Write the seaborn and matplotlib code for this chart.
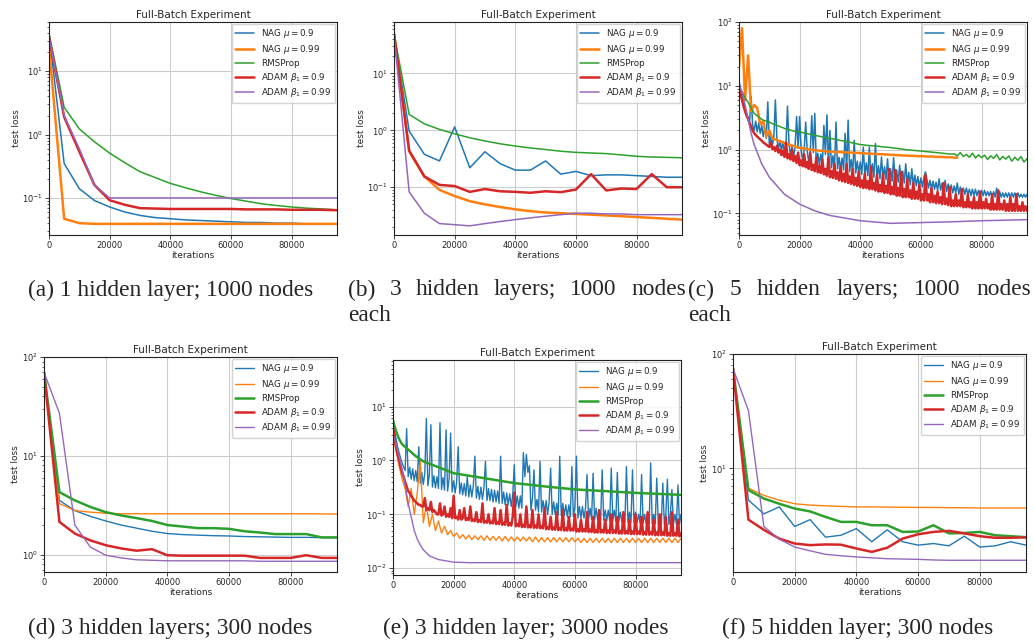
import numpy as np
import pandas as pd
import matplotlib
matplotlib.use("Agg")
import matplotlib.pyplot as plt
import seaborn as sns

sns.set_theme(style="ticks")
plt.rcParams['font.family'] = ['DejaVu Sans']
plt.rcParams['mathtext.fontset'] = 'dejavusans'

# ---------------- data ----------------
labels = ["NAG $\\mu = 0.9$", "NAG $\\mu = 0.99$", "RMSProp",
          "ADAM $\\beta_1 = 0.9$", "ADAM $\\beta_1 = 0.99$"]
colors = ["#1f77b4", "#ff7f0e", "#2ca02c", "#d62728", "#9467bd"]
titles = ["Full-Batch Experiment"] * 6
captions = ["(a) 1 hidden layer; 1000 nodes",
            "(b) 3 hidden layers; 1000 nodes each",
            "(c) 5 hidden layers; 1000 nodes each",
            "(d) 3 hidden layers; 300 nodes",
            "(e) 3 hidden layer; 3000 nodes",
            "(f) 5 hidden layer; 300 nodes"]
xticks = [0, 20000, 40000, 60000, 80000]

it5 = list(range(0, 100000, 5000))     # 0..95000 every 5000
it1 = list(range(0, 96000, 1000))      # 0..95000 every 1000
ith = list(range(0, 95500, 500))       # 0..95000 every 500

# (a) 1 hidden layer, 1000 nodes
a_blue = [40, 0.35, 0.14, 0.091, 0.072, 0.06, 0.053, 0.049, 0.047, 0.045,
          0.044, 0.043, 0.042, 0.041, 0.041, 0.04, 0.04, 0.039, 0.039, 0.039]
a_orange = [25, 0.047, 0.04, 0.039, 0.039, 0.039, 0.039, 0.039, 0.039, 0.039,
            0.039, 0.039, 0.039, 0.039, 0.039, 0.039, 0.039, 0.039, 0.039, 0.039]
a_green = [40, 2.7, 1.23, 0.77, 0.51, 0.36, 0.26, 0.21, 0.17, 0.145,
           0.125, 0.11, 0.098, 0.089, 0.081, 0.076, 0.072, 0.069, 0.067, 0.065]
a_red = [35, 1.9, 0.54, 0.16, 0.092, 0.078, 0.069, 0.068, 0.067, 0.067,
         0.067, 0.067, 0.067, 0.066, 0.066, 0.066, 0.065, 0.065, 0.065, 0.064]
a_purple = [35, 2.0, 0.6, 0.16, 0.1, 0.1, 0.1, 0.1, 0.1, 0.1,
            0.1, 0.1, 0.1, 0.1, 0.1, 0.1, 0.1, 0.1, 0.1, 0.1]

# (b) 3 hidden layers, 1000 nodes
b_blue = [50, 0.97, 0.38, 0.29, 1.15, 0.22, 0.42, 0.26, 0.2, 0.2,
          0.29, 0.17, 0.19, 0.16, 0.165, 0.165, 0.16, 0.155, 0.15, 0.15]
b_orange = [50, 0.43, 0.155, 0.09, 0.07, 0.057, 0.05, 0.045, 0.041, 0.038,
            0.036, 0.035, 0.034, 0.033, 0.032, 0.031, 0.03, 0.029, 0.028, 0.027]
b_green = [50, 1.9, 1.3, 1.04, 0.87, 0.74, 0.65, 0.58, 0.53, 0.49,
           0.46, 0.43, 0.41, 0.4, 0.39, 0.37, 0.35, 0.34, 0.335, 0.33]
b_red = [50, 0.44, 0.155, 0.11, 0.105, 0.083, 0.093, 0.085, 0.083, 0.08,
         0.085, 0.082, 0.091, 0.17, 0.088, 0.095, 0.093, 0.17, 0.1, 0.1]
b_purple = [50, 0.083, 0.035, 0.023, 0.022, 0.021, 0.023, 0.025, 0.027, 0.029,
            0.031, 0.033, 0.035, 0.035, 0.034, 0.034, 0.033, 0.033, 0.033, 0.033]

# (c) 5 hidden layers, 1000 nodes (noisy)
c_blue = [12, 9, 7, 5.5, 4.5, 3.8, 3.2, 2.8, 6.8, 2.4,
          2.0, 2.8, 1.9, 2.6, 1.8, 2.4, 1.6, 2.2, 1.5, 5.6,
          1.2, 1.7, 1.15, 1.6, 6.0, 1.5, 1.0, 1.4, 0.95, 1.35,
          0.85, 1.25, 4.8, 1.2, 0.8, 1.15, 0.78, 1.1, 3.3, 1.05,
          3.3, 1.0, 0.68, 0.98, 2.7, 0.95, 0.64, 0.92, 3.4, 0.9,
          3.7, 0.6, 0.88, 0.58, 0.86, 0.56, 2.4, 0.84, 3.5, 0.55,
          2.0, 0.52, 0.8, 0.5, 2.7, 0.5, 0.76, 0.49, 0.74, 0.48,
          1.8, 0.46, 2.9, 0.45, 0.7, 0.44, 1.4, 0.43, 0.66, 0.42,
          0.64, 0.41, 1.1, 0.4, 0.62, 0.39, 1.1, 0.38, 0.6, 0.37,
          1.25, 0.36, 0.56, 0.35, 0.77, 0.35, 0.54, 0.34, 0.72, 0.33,
          0.5, 0.32, 0.75, 0.32, 0.48, 0.31, 0.57, 0.3, 0.46, 0.3,
          0.6, 0.29, 0.44, 0.28, 0.5, 0.27, 0.4, 0.27, 0.38, 0.26,
          0.36, 0.26, 0.37, 0.45, 0.34, 0.25, 0.33, 0.24, 0.32, 0.24,
          0.31, 0.23, 0.35, 0.23, 0.3, 0.22, 0.33, 0.22, 0.29, 0.21,
          0.28, 0.21, 0.27, 0.21, 0.3, 0.2, 0.26, 0.2, 0.25, 0.2,
          0.25, 0.2, 0.24, 0.19, 0.24, 0.19, 0.24, 0.19, 0.23, 0.19,
          0.23, 0.19, 0.23, 0.19, 0.22, 0.19, 0.22, 0.18, 0.22, 0.18,
          0.25, 0.18, 0.22, 0.18, 0.21, 0.18, 0.21, 0.18, 0.21, 0.18,
          0.21, 0.18, 0.21, 0.18, 0.21, 0.18, 0.2, 0.18, 0.2, 0.18, 0.2]
c_orange_it = list(range(0, 73000, 1000))
c_orange = [20, 80, 6, 30, 4, 5, 4.5, 2.5, 2.8, 1.6,
            2.0, 1.5, 1.45, 1.38, 1.32, 1.27, 1.22, 1.18, 1.14, 1.1,
            1.07, 1.05, 1.03, 1.01, 0.99, 0.98, 0.97, 0.96, 0.95, 0.94,
            0.93, 0.93, 0.92, 0.92, 0.91, 0.91, 0.9, 0.9, 0.89, 0.89,
            0.88, 0.88, 0.87, 0.87, 0.86, 0.86, 0.85, 0.85, 0.84, 0.84,
            0.83, 0.83, 0.82, 0.82, 0.81, 0.81, 0.8, 0.8, 0.8, 0.79,
            0.79, 0.79, 0.78, 0.78, 0.78, 0.77, 0.77, 0.77, 0.76, 0.76,
            0.76, 0.75, 0.75]
c_green = [10, 8, 6.5, 5.5, 4.5, 3.7, 3.4, 3.1, 2.9, 2.8,
           2.7, 2.55, 2.45, 2.35, 2.25, 2.15, 2.08, 2.02, 1.96, 1.92,
           1.9, 1.85, 1.8, 1.76, 1.72, 1.68, 1.64, 1.6, 1.56, 1.53,
           1.5, 1.47, 1.44, 1.41, 1.38, 1.35, 1.32, 1.29, 1.26, 1.23,
           1.2, 1.19, 1.17, 1.16, 1.15, 1.14, 1.13, 1.11, 1.1, 1.09,
           1.08, 1.06, 1.05, 1.03, 1.02, 1.0, 0.99, 0.98, 0.97, 0.96,
           0.95, 0.94, 0.93, 0.92, 0.91, 0.9, 0.89, 0.88, 0.87, 0.86,
           0.85, 0.86, 0.8, 0.9, 0.78, 0.84, 0.76, 0.88, 0.74, 0.83,
           0.75, 0.82, 0.7, 0.8, 0.73, 0.84, 0.69, 0.78, 0.71, 0.8,
           0.66, 0.76, 0.68, 0.78, 0.64, 0.72]
c_red = [10, 7.5, 6, 4.8, 4, 3.4, 3, 2.6, 2.3, 2.0,
         1.8, 1.7, 1.6, 1.52, 1.45, 1.38, 1.3, 1.25, 1.2, 1.15,
         1.1, 1.3, 1.02, 1.1, 0.95, 1.15, 0.9, 1.0, 0.82, 0.95,
         0.77, 1.3, 0.73, 0.85, 0.7, 1.0, 0.66, 0.8, 0.62, 0.9,
         0.57, 0.68, 0.55, 0.85, 0.53, 0.64, 0.5, 0.9, 0.48, 0.58,
         0.46, 0.75, 0.44, 0.55, 0.43, 0.7, 0.41, 0.5, 0.39, 0.75,
         0.37, 0.46, 0.36, 0.6, 0.35, 0.44, 0.33, 0.55, 0.32, 0.42,
         0.31, 0.6, 0.3, 0.38, 0.29, 0.5, 0.28, 0.36, 0.27, 0.45,
         0.26, 0.33, 0.25, 0.42, 0.25, 0.32, 0.24, 0.55, 0.24, 0.3,
         0.23, 0.4, 0.22, 0.28, 0.22, 0.42, 0.21, 0.27, 0.21, 0.5,
         0.2, 0.26, 0.2, 0.48, 0.19, 0.25, 0.19, 0.45, 0.18, 0.24,
         0.18, 0.35, 0.18, 0.23, 0.17, 0.3, 0.17, 0.22, 0.17, 0.28,
         0.16, 0.2, 0.16, 0.4, 0.16, 0.2, 0.15, 0.25, 0.15, 0.19,
         0.145, 0.22, 0.145, 0.18, 0.14, 0.3, 0.14, 0.17, 0.135, 0.26,
         0.13, 0.16, 0.13, 0.2, 0.13, 0.16, 0.13, 0.24, 0.125, 0.15,
         0.125, 0.2, 0.125, 0.15, 0.12, 0.18, 0.12, 0.15, 0.12, 0.22,
         0.12, 0.15, 0.12, 0.17, 0.12, 0.14, 0.115, 0.2, 0.115, 0.14,
         0.115, 0.23, 0.115, 0.14, 0.115, 0.16, 0.11, 0.14, 0.11, 0.18,
         0.11, 0.14, 0.11, 0.2, 0.11, 0.13, 0.11, 0.15, 0.11, 0.13, 0.11]
c_purple_it = [0, 1000, 2000, 3000, 4000, 5000, 7500, 10000, 15000, 20000,
               25000, 30000, 40000, 50000, 60000, 70000, 80000, 95000]
c_purple = [10, 8, 5, 3, 1.8, 1.2, 0.6, 0.37, 0.2, 0.14,
            0.11, 0.093, 0.077, 0.07, 0.072, 0.074, 0.077, 0.08]

# (d) 3 hidden layers, 300 nodes
d_blue = [70, 3.55, 2.8, 2.45, 2.2, 2.0, 1.86, 1.73, 1.64, 1.6,
          1.58, 1.56, 1.55, 1.53, 1.52, 1.51, 1.5, 1.5, 1.49, 1.49]
d_orange = [70, 3.3, 2.8, 2.7, 2.63, 2.6, 2.6, 2.6, 2.6, 2.6,
            2.6, 2.6, 2.6, 2.6, 2.6, 2.6, 2.6, 2.6, 2.59, 2.58]
d_green = [70, 4.3, 3.55, 3.05, 2.7, 2.5, 2.35, 2.2, 2.0, 1.93,
           1.86, 1.86, 1.83, 1.73, 1.68, 1.62, 1.62, 1.62, 1.5, 1.5]
d_red = [70, 2.15, 1.64, 1.4, 1.25, 1.16, 1.1, 1.14, 0.99, 0.98,
         0.98, 0.98, 0.98, 0.98, 0.93, 0.93, 0.93, 0.99, 0.93, 0.93]
d_purple = [70, 27, 2.0, 1.2, 0.99, 0.93, 0.89, 0.88, 0.87, 0.87,
            0.87, 0.87, 0.87, 0.87, 0.86, 0.86, 0.86, 0.86, 0.86, 0.86]

# (e) 3 hidden layers, 3000 nodes (noisy)
e_blue = [5.6, 3.5, 2.5, 1.8, 1.4, 1.1, 0.9, 0.75, 0.65, 3.9,
          0.5, 0.75, 0.45, 0.7, 0.42, 0.65, 0.4, 1.8, 0.38, 0.6,
          0.36, 0.58, 6.0, 0.34, 0.55, 4.6, 0.32, 0.52, 0.31, 0.5,
          0.3, 5.0, 0.29, 0.48, 0.28, 3.7, 0.27, 0.45, 3.2, 0.26,
          0.42, 0.25, 0.4, 1.8, 0.24, 0.38, 0.23, 0.37, 0.22, 0.5,
          0.21, 0.35, 0.21, 0.34, 1.2, 0.2, 0.33, 0.19, 0.32, 0.19,
          0.31, 0.96, 0.18, 0.3, 0.18, 0.29, 0.17, 0.28, 0.17, 0.27,
          0.16, 1.2, 0.16, 0.26, 0.15, 0.25, 0.15, 0.24, 0.14, 0.23,
          0.83, 0.14, 0.22, 0.13, 0.22, 0.13, 1.4, 0.5, 1.3, 0.6,
          0.8, 0.12, 0.2, 0.67, 0.12, 0.19, 0.11, 0.96, 0.11, 0.18,
          0.11, 0.18, 0.1, 0.17, 0.72, 0.1, 0.17, 0.1, 0.16, 0.095,
          1.2, 0.095, 0.16, 0.095, 0.15, 0.09, 0.15, 0.09, 0.77, 0.09,
          0.14, 1.2, 0.085, 0.14, 0.085, 0.14, 0.085, 0.13, 0.55, 0.08,
          0.13, 0.08, 0.58, 0.08, 0.13, 0.078, 0.12, 0.078, 0.67, 0.078,
          0.12, 0.075, 0.12, 0.075, 0.72, 0.075, 0.12, 0.073, 0.6, 0.073,
          0.11, 0.072, 0.11, 0.072, 0.77, 0.07, 0.11, 0.07, 0.67, 0.07,
          0.11, 0.07, 0.1, 0.068, 0.55, 0.068, 0.1, 0.068, 0.1, 0.067,
          0.9, 0.067, 0.1, 0.066, 0.47, 0.066, 0.1, 0.065, 0.38, 0.065,
          0.1, 0.45, 0.065, 0.1, 0.29, 0.065, 0.1, 0.065, 0.35, 0.065, 0.1]
e_orange = [3.2, 1.5, 0.8, 0.45, 0.3, 0.14, 0.3, 0.1, 0.25, 1.0,
            0.07, 0.15, 0.06, 0.1, 0.05, 0.075, 0.045, 0.06, 0.042, 0.05,
            0.039, 0.045, 0.036, 0.042, 0.035, 0.041, 0.034, 0.04, 0.034, 0.04,
            0.033, 0.04, 0.033, 0.039, 0.033, 0.039, 0.032, 0.039, 0.032, 0.038,
            0.032, 0.038, 0.032, 0.038, 0.032, 0.038, 0.031, 0.038, 0.031, 0.037,
            0.031, 0.037, 0.031, 0.037, 0.031, 0.037, 0.031, 0.037, 0.031, 0.037,
            0.031, 0.036, 0.03, 0.036, 0.03, 0.036, 0.03, 0.036, 0.03, 0.036,
            0.03, 0.036, 0.03, 0.036, 0.03, 0.036, 0.03, 0.036, 0.03, 0.036,
            0.03, 0.036, 0.03, 0.036, 0.03, 0.036, 0.03, 0.036, 0.03, 0.036,
            0.03, 0.036, 0.03, 0.036, 0.03, 0.036]
e_green_it = [0, 1000, 2000, 3000, 5000, 7500, 10000, 15000, 20000, 30000,
              40000, 50000, 60000, 70000, 80000, 95000]
e_green = [5.5, 3.5, 2.5, 2.0, 1.6, 1.2, 0.96, 0.75, 0.58, 0.47,
           0.38, 0.33, 0.29, 0.27, 0.25, 0.23]
e_red = [4, 2.6, 1.8, 1.3, 1.0, 0.75, 0.6, 0.5, 0.4, 0.33,
         0.27, 0.25, 0.22, 0.2, 0.18, 0.17, 0.16, 0.15, 0.15, 0.14,
         0.14, 0.2, 0.12, 0.13, 0.12, 0.17, 0.11, 0.12, 0.11, 0.1,
         0.1, 0.16, 0.095, 0.1, 0.14, 0.09, 0.1, 0.09, 0.13, 0.085,
         0.22, 0.085, 0.09, 0.08, 0.12, 0.08, 0.085, 0.13, 0.078, 0.085,
         0.078, 0.14, 0.075, 0.08, 0.075, 0.11, 0.072, 0.078, 0.072, 0.16,
         0.07, 0.075, 0.07, 0.1, 0.068, 0.073, 0.068, 0.13, 0.066, 0.071,
         0.066, 0.12, 0.064, 0.07, 0.064, 0.15, 0.062, 0.068, 0.062, 0.09,
         0.25, 0.06, 0.066, 0.06, 0.1, 0.058, 0.064, 0.058, 0.14, 0.057,
         0.063, 0.057, 0.12, 0.056, 0.062, 0.056, 0.1, 0.055, 0.06, 0.055,
         0.13, 0.053, 0.058, 0.053, 0.09, 0.052, 0.057, 0.052, 0.11, 0.051,
         0.056, 0.051, 0.12, 0.05, 0.055, 0.05, 0.09, 0.05, 0.054, 0.05,
         0.1, 0.048, 0.053, 0.048, 0.08, 0.048, 0.053, 0.048, 0.11, 0.047,
         0.052, 0.047, 0.09, 0.046, 0.051, 0.046, 0.12, 0.046, 0.051, 0.046,
         0.08, 0.045, 0.05, 0.045, 0.1, 0.045, 0.05, 0.045, 0.09, 0.044,
         0.049, 0.044, 0.11, 0.044, 0.049, 0.044, 0.08, 0.043, 0.048, 0.043,
         0.1, 0.043, 0.048, 0.043, 0.09, 0.042, 0.047, 0.042, 0.11, 0.042,
         0.047, 0.042, 0.08, 0.041, 0.046, 0.041, 0.1, 0.041, 0.046, 0.041,
         0.09, 0.04, 0.045, 0.04, 0.11, 0.04, 0.045, 0.04, 0.08, 0.039, 0.044]
e_purple_it = [0, 1000, 2000, 3000, 4000, 5000, 6000, 7000, 8000, 9000,
               10000, 12000, 15000, 20000, 25000, 30000, 40000, 60000, 80000, 95000]
e_purple = [3, 2, 1.2, 0.7, 0.35, 0.16, 0.09, 0.05, 0.035, 0.027,
            0.022, 0.017, 0.0145, 0.013, 0.0127, 0.0127, 0.0127, 0.0127, 0.0127, 0.0127]

# (f) 5 hidden layers, 300 nodes
f_blue = [75, 5.27, 4.0, 4.6, 3.1, 3.56, 2.5, 2.6, 2.97, 2.28,
          2.9, 2.28, 2.13, 2.2, 2.1, 2.55, 2.05, 2.1, 2.28, 2.13]
f_orange = [75, 6.7, 5.8, 5.27, 4.9, 4.77, 4.7, 4.65, 4.6, 4.6,
            4.58, 4.57, 4.55, 4.55, 4.53, 4.52, 4.5, 4.5, 4.5, 4.5]
f_green = [75, 6.45, 5.45, 4.9, 4.45, 4.2, 3.76, 3.4, 3.4, 3.18,
           3.18, 2.78, 2.8, 3.18, 2.7, 2.72, 2.78, 2.6, 2.55, 2.5]
f_red = [75, 3.56, 2.9, 2.43, 2.2, 2.13, 2.16, 2.15, 1.99, 1.86,
         2.02, 2.43, 2.65, 2.78, 2.84, 2.7, 2.55, 2.47, 2.47, 2.49]
f_purple = [75, 32, 3.1, 2.4, 2.05, 1.9, 1.77, 1.72, 1.68, 1.65,
            1.62, 1.61, 1.6, 1.58, 1.57, 1.57, 1.57, 1.57, 1.57, 1.57]

ylims = [(0.026, 60), (0.0145, 80), (0.046, 100),
         (0.67, 100), (0.0075, 73), (1.24, 100)]

panels = [
    [(it5, a_blue), (it5, a_orange), (it5, a_green), (it5, a_red), (it5, a_purple)],
    [(it5, b_blue), (it5, b_orange), (it5, b_green), (it5, b_red), (it5, b_purple)],
    [(ith, c_blue), (c_orange_it, c_orange), (it1, c_green), (ith, c_red), (c_purple_it, c_purple)],
    [(it5, d_blue), (it5, d_orange), (it5, d_green), (it5, d_red), (it5, d_purple)],
    [(ith, e_blue), (it1, e_orange), (e_green_it, e_green), (ith, e_red), (e_purple_it, e_purple)],
    [(it5, f_blue), (it5, f_orange), (it5, f_green), (it5, f_red), (it5, f_purple)],
]

# ---------------- layout ----------------
W, H = 1034, 643
fig = plt.figure(figsize=(W / 100, H / 100), dpi=100)

boxes = [(49, 22, 337, 235), (394, 22, 682, 235), (739, 22, 1027, 235),
         (44, 357, 337, 572), (393, 360, 681, 575), (733, 354, 1026, 572)]
thin, thick = 1.1, 1.8
widths_top = [thin, thick, thin, thick, thin]
widths_bot = [thin * 0.9, thin * 0.9, thick, thick, thin * 0.9]

for i, (box, series) in enumerate(zip(boxes, panels)):
    x0, y0, x1, y1 = box
    ax = fig.add_axes([x0 / W, 1 - y1 / H, (x1 - x0) / W, (y1 - y0) / H])
    lws = widths_top if i < 3 else widths_bot
    for k, (xs, ys) in enumerate(series):
        df = pd.DataFrame({"iterations": xs, "test loss": ys})
        sns.lineplot(data=df, x="iterations", y="test loss", ax=ax,
                     color=colors[k], linewidth=lws[k], label=labels[k],
                     estimator=None, sort=False)
    ax.set_yscale("log")
    ax.set_xlim(0, 95000)
    ax.set_ylim(*ylims[i])
    ax.set_xticks(xticks)
    ax.grid(True, which="major", color="#cccccc", linewidth=0.8)
    ax.tick_params(axis="both", which="major", labelsize=6, length=3, width=0.6, pad=1.5)
    ax.tick_params(axis="y", which="minor", length=1.8, width=0.5)
    for s in ax.spines.values():
        s.set_linewidth(0.8)
        s.set_color("#222222")
    ax.set_title(titles[i], fontsize=7.5, pad=3)
    ax.set_xlabel("iterations", fontsize=6.5, labelpad=0.5)
    ax.set_ylabel("test loss", fontsize=6.5, labelpad=1)
    ax.legend(loc="upper right", fontsize=6.3, handlelength=2.2,
              borderpad=0.4, labelspacing=0.32, framealpha=0.85,
              borderaxespad=0.2)

# ---------------- captions ----------------
cap_font = dict(family="Liberation Serif", size=16.8)
renderer = fig.canvas.get_renderer()

def justify(words, xl, xr, yc):
    texts = [fig.text(0, 1 - yc / H, w, ha="left", va="center", **cap_font) for w in words]
    ws = [t.get_window_extent(renderer).width for t in texts]
    gap = (xr - xl - sum(ws)) / (len(words) - 1)
    x = xl
    for t, w in zip(texts, ws):
        t.set_x(x / W)
        x += w + gap

fig.text(28 / W, 1 - 290 / H, captions[0], ha="left", va="center", **cap_font)
justify(["(b)", "3", "hidden", "layers;", "1000", "nodes"], 348, 686, 290)
fig.text(348 / W, 1 - 316 / H, "each", ha="left", va="center", **cap_font)
justify(["(c)", "5", "hidden", "layers;", "1000", "nodes"], 688, 1031, 290)
fig.text(688 / W, 1 - 316 / H, "each", ha="left", va="center", **cap_font)
fig.text(28 / W, 1 - 628 / H, captions[3], ha="left", va="center", **cap_font)
fig.text(383 / W, 1 - 628 / H, captions[4], ha="left", va="center", **cap_font)
fig.text(722 / W, 1 - 628 / H, captions[5], ha="left", va="center", **cap_font)

fig.savefig("out.png", dpi=100)
